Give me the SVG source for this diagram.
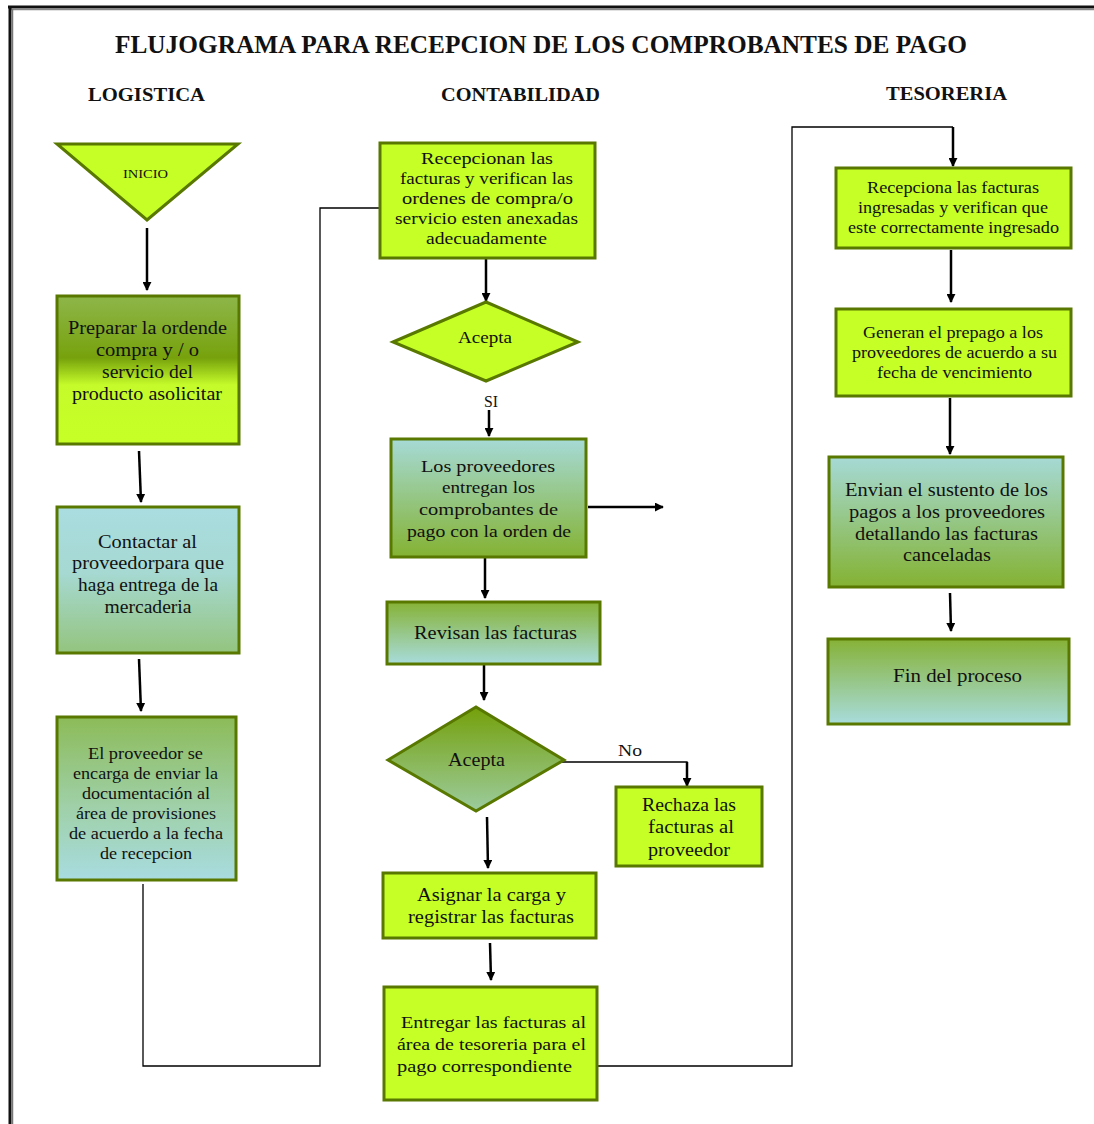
<svg xmlns="http://www.w3.org/2000/svg" width="1094" height="1124" viewBox="0 0 1094 1124">
  <defs>
    <style>
      .t { font-family: "Liberation Serif", "Times New Roman", serif; fill: #111; text-anchor: middle; }
      .title { font-weight: bold; font-size: 25px; }
      .lane { font-weight: bold; font-size: 18px; }
      .box { stroke: #587800; stroke-width: 3; }
      .lime { fill: #c6ff26; }
      .flow { fill: none; stroke: #000; stroke-width: 2.5; }
      .link { fill: none; stroke: #000; stroke-width: 1.3; }
      .f17 { font-size: 17px; }
      .f16 { font-size: 16px; }
      .f18 { font-size: 18px; }
      .l { text-anchor: start; }
    </style>
    <marker id="ah" viewBox="0 0 10 10" refX="9" refY="5" markerWidth="9" markerHeight="9" markerUnits="userSpaceOnUse" orient="auto">
      <path d="M0,0 L10,5 L0,10 Z" fill="#000"/>
    </marker>
    <linearGradient id="gPrep" x1="0" y1="0" x2="0" y2="1">
      <stop offset="0" stop-color="#8db64a"/>
      <stop offset="0.42" stop-color="#77a20c"/>
      <stop offset="0.6" stop-color="#c5fb2a"/>
      <stop offset="1" stop-color="#c6ff26"/>
    </linearGradient>
    <linearGradient id="gBlueGreen" x1="0" y1="0" x2="0" y2="1">
      <stop offset="0" stop-color="#a9dde0"/>
      <stop offset="0.45" stop-color="#a6d9d2"/>
      <stop offset="1" stop-color="#94c47e"/>
    </linearGradient>
    <linearGradient id="gGreenBlue" x1="0" y1="0" x2="0" y2="1">
      <stop offset="0" stop-color="#8cbb58"/>
      <stop offset="0.55" stop-color="#9fd0a8"/>
      <stop offset="1" stop-color="#a8dce0"/>
    </linearGradient>
    <linearGradient id="gBlueGreenDeep" x1="0" y1="0" x2="0" y2="1">
      <stop offset="0" stop-color="#a6dad6"/>
      <stop offset="1" stop-color="#84b232"/>
    </linearGradient>
    <linearGradient id="gGreenBlueDeep" x1="0" y1="0" x2="0" y2="1">
      <stop offset="0" stop-color="#86b236"/>
      <stop offset="1" stop-color="#a8dcdc"/>
    </linearGradient>
    <linearGradient id="gDiamond" x1="0" y1="0" x2="0" y2="1">
      <stop offset="0" stop-color="#74a00a"/>
      <stop offset="1" stop-color="#9ccc9e"/>
    </linearGradient>
  </defs>

  <rect width="1094" height="1124" fill="#fff"/>

  <!-- page frame -->
  <g id="frame">
    <line x1="8" y1="7" x2="1094" y2="7" stroke="#111" stroke-width="3"/>
    <line x1="11" y1="9.5" x2="1094" y2="9.5" stroke="#888" stroke-width="1.5"/>
    <line x1="10" y1="6" x2="10" y2="1124" stroke="#111" stroke-width="3"/>
    <line x1="12.5" y1="9" x2="12.5" y2="1124" stroke="#777" stroke-width="1.5"/>
  </g>

  <!-- headings -->
  <g id="headings">
    <text class="t title" x="541" y="53" textLength="852" lengthAdjust="spacingAndGlyphs">FLUJOGRAMA PARA RECEPCION DE LOS COMPROBANTES DE PAGO</text>
    <text class="t lane" x="146.5" y="101" textLength="117" lengthAdjust="spacingAndGlyphs">LOGISTICA</text>
    <text class="t lane" x="520.5" y="101" textLength="159" lengthAdjust="spacingAndGlyphs">CONTABILIDAD</text>
    <text class="t lane" x="946.5" y="100" textLength="121" lengthAdjust="spacingAndGlyphs">TESORERIA</text>
  </g>

  <!-- connectors -->
  <g id="connectors">
    <line class="flow" x1="147" y1="228" x2="147" y2="290" marker-end="url(#ah)"/>
    <line class="flow" x1="139" y1="451" x2="141" y2="502" marker-end="url(#ah)"/>
    <line class="flow" x1="139" y1="659" x2="141" y2="711" marker-end="url(#ah)"/>
    <polyline class="link" points="143,884 143,1066 320,1066 320,208 379,208"/>
    <line class="flow" x1="486" y1="259" x2="486" y2="301" marker-end="url(#ah)"/>
    <line class="flow" x1="489" y1="410" x2="489" y2="436" marker-end="url(#ah)"/>
    <line class="flow" x1="588" y1="507" x2="663" y2="507" marker-end="url(#ah)"/>
    <line class="flow" x1="485" y1="558" x2="485" y2="598" marker-end="url(#ah)"/>
    <line class="flow" x1="484" y1="665" x2="484" y2="700" marker-end="url(#ah)"/>
    <polyline class="link" points="562,762 687,762 687,770"/>
    <line class="flow" x1="687" y1="762" x2="687" y2="786" marker-end="url(#ah)"/>
    <line class="flow" x1="487" y1="817" x2="488" y2="868" marker-end="url(#ah)"/>
    <line class="flow" x1="490" y1="943" x2="491" y2="980" marker-end="url(#ah)"/>
    <polyline class="link" points="597,1066 792,1066 792,127 953,127"/>
    <line class="flow" x1="953" y1="127" x2="953" y2="166" marker-end="url(#ah)"/>
    <line class="flow" x1="951" y1="250" x2="951" y2="302" marker-end="url(#ah)"/>
    <line class="flow" x1="950" y1="398" x2="950" y2="454" marker-end="url(#ah)"/>
    <line class="flow" x1="950" y1="593" x2="951" y2="631" marker-end="url(#ah)"/>
    <text class="t f16" x="491" y="407" textLength="14" lengthAdjust="spacingAndGlyphs">SI</text>
    <text class="t f17" x="630" y="756" textLength="24" lengthAdjust="spacingAndGlyphs">No</text>
  </g>

  <!-- logistica -->
  <g id="inicio">
    <polygon class="box lime" points="57,144 238,144 147,220"/>
    <text class="t" x="145.5" y="178" font-size="13" textLength="45" lengthAdjust="spacingAndGlyphs">INICIO</text>
  </g>
  <g id="preparar">
    <rect class="box" x="57" y="296" width="182" height="148" fill="url(#gPrep)"/>
    <text class="t f18" x="147.5" y="334" textLength="159" lengthAdjust="spacingAndGlyphs">Preparar la ordende</text>
    <text class="t f18" x="147.5" y="356" textLength="103" lengthAdjust="spacingAndGlyphs">compra y / o</text>
    <text class="t f18" x="147.5" y="378" textLength="91" lengthAdjust="spacingAndGlyphs">servicio del</text>
    <text class="t f18" x="147" y="400" textLength="150" lengthAdjust="spacingAndGlyphs">producto asolicitar</text>
  </g>
  <g id="contactar">
    <rect class="box" x="57" y="507" width="182" height="146" fill="url(#gBlueGreen)"/>
    <text class="t f18" x="147.5" y="548" textLength="99" lengthAdjust="spacingAndGlyphs">Contactar al</text>
    <text class="t f18" x="148" y="569" textLength="152" lengthAdjust="spacingAndGlyphs">proveedorpara que</text>
    <text class="t f18" x="148" y="591" textLength="140" lengthAdjust="spacingAndGlyphs">haga entrega de la</text>
    <text class="t f18" x="148" y="613" textLength="87" lengthAdjust="spacingAndGlyphs">mercaderia</text>
  </g>
  <g id="proveedor-envia">
    <rect class="box" x="57" y="717" width="179" height="163" fill="url(#gGreenBlue)"/>
    <text class="t f16" x="145.5" y="759" textLength="115" lengthAdjust="spacingAndGlyphs">El proveedor se</text>
    <text class="t f16" x="145.5" y="779" textLength="145" lengthAdjust="spacingAndGlyphs">encarga de enviar la</text>
    <text class="t f16" x="146" y="799" textLength="128" lengthAdjust="spacingAndGlyphs">documentación al</text>
    <text class="t f16" x="146" y="819" textLength="140" lengthAdjust="spacingAndGlyphs">área de provisiones</text>
    <text class="t f16" x="146" y="839" textLength="154" lengthAdjust="spacingAndGlyphs">de acuerdo a la fecha</text>
    <text class="t f16" x="146" y="859" textLength="92" lengthAdjust="spacingAndGlyphs">de recepcion</text>
  </g>

  <!-- contabilidad -->
  <g id="recepcionan">
    <rect class="box lime" x="380" y="143" width="215" height="115"/>
    <text class="t f17" x="487" y="164" textLength="132" lengthAdjust="spacingAndGlyphs">Recepcionan las</text>
    <text class="t f17" x="486.5" y="184" textLength="173" lengthAdjust="spacingAndGlyphs">facturas y verifican las</text>
    <text class="t f17" x="487.5" y="204" textLength="171" lengthAdjust="spacingAndGlyphs">ordenes de compra/o</text>
    <text class="t f17" x="486.5" y="224" textLength="183" lengthAdjust="spacingAndGlyphs">servicio esten anexadas</text>
    <text class="t f17" x="486.5" y="244" textLength="121" lengthAdjust="spacingAndGlyphs">adecuadamente</text>
  </g>
  <g id="acepta-1">
    <polygon class="box lime" points="393,342 486,302 578,342 486,381"/>
    <text class="t f17" x="485" y="343" textLength="54" lengthAdjust="spacingAndGlyphs">Acepta</text>
  </g>
  <g id="entregan">
    <rect class="box" x="391" y="439" width="195" height="118" fill="url(#gBlueGreenDeep)"/>
    <text class="t f17" x="488" y="472" textLength="134" lengthAdjust="spacingAndGlyphs">Los proveedores</text>
    <text class="t f17" x="488.5" y="493" textLength="93" lengthAdjust="spacingAndGlyphs">entregan los</text>
    <text class="t f17" x="488.5" y="515" textLength="139" lengthAdjust="spacingAndGlyphs">comprobantes de</text>
    <text class="t f17" x="489" y="537" textLength="164" lengthAdjust="spacingAndGlyphs">pago con la orden de</text>
  </g>
  <g id="revisan">
    <rect class="box" x="387" y="602" width="213" height="62" fill="url(#gGreenBlueDeep)"/>
    <text class="t f18" x="495.5" y="639" textLength="163" lengthAdjust="spacingAndGlyphs">Revisan las facturas</text>
  </g>
  <g id="acepta-2">
    <polygon class="box" points="388,760 476,707 564,760 476,811" fill="url(#gDiamond)"/>
    <text class="t f18" x="476.5" y="766" textLength="57" lengthAdjust="spacingAndGlyphs">Acepta</text>
  </g>
  <g id="rechaza">
    <rect class="box lime" x="616" y="787" width="146" height="79"/>
    <text class="t f18" x="689" y="811" textLength="94" lengthAdjust="spacingAndGlyphs">Rechaza las</text>
    <text class="t f18" x="691" y="833" textLength="86" lengthAdjust="spacingAndGlyphs">facturas  al</text>
    <text class="t f18" x="689" y="856" textLength="82" lengthAdjust="spacingAndGlyphs">proveedor</text>
  </g>
  <g id="asignar">
    <rect class="box lime" x="383" y="873" width="213" height="65"/>
    <text class="t f18" x="491.5" y="901" textLength="149" lengthAdjust="spacingAndGlyphs">Asignar la carga y</text>
    <text class="t f18" x="491" y="923" textLength="166" lengthAdjust="spacingAndGlyphs">registrar las facturas</text>
  </g>
  <g id="entregar">
    <rect class="box lime" x="384" y="987" width="213" height="113"/>
    <text class="t f17 l" x="401" y="1028" textLength="185" lengthAdjust="spacingAndGlyphs">Entregar las facturas al</text>
    <text class="t f17 l" x="397" y="1050" textLength="189" lengthAdjust="spacingAndGlyphs">área de tesoreria para el</text>
    <text class="t f17 l" x="397" y="1072" textLength="175" lengthAdjust="spacingAndGlyphs">pago correspondiente</text>
  </g>

  <!-- tesoreria -->
  <g id="recepciona-tesoreria">
    <rect class="box lime" x="836" y="168" width="235" height="80"/>
    <text class="t f16" x="953" y="193" textLength="172" lengthAdjust="spacingAndGlyphs">Recepciona las facturas</text>
    <text class="t f16" x="953" y="213" textLength="190" lengthAdjust="spacingAndGlyphs">ingresadas y verifican que</text>
    <text class="t f16" x="953.5" y="233" textLength="211" lengthAdjust="spacingAndGlyphs">este correctamente ingresado</text>
  </g>
  <g id="prepago">
    <rect class="box lime" x="836" y="309" width="235" height="87"/>
    <text class="t f16" x="953" y="338" textLength="180" lengthAdjust="spacingAndGlyphs">Generan el prepago a los</text>
    <text class="t f16" x="954.5" y="358" textLength="205" lengthAdjust="spacingAndGlyphs">proveedores de acuerdo a su</text>
    <text class="t f16" x="954.5" y="378" textLength="155" lengthAdjust="spacingAndGlyphs">fecha de vencimiento</text>
  </g>
  <g id="envian">
    <rect class="box" x="829" y="457" width="234" height="130" fill="url(#gBlueGreenDeep)"/>
    <text class="t f18" x="946.5" y="496" textLength="203" lengthAdjust="spacingAndGlyphs">Envian el sustento de los</text>
    <text class="t f18" x="947" y="518" textLength="196" lengthAdjust="spacingAndGlyphs">pagos a los proveedores</text>
    <text class="t f18" x="946.5" y="540" textLength="183" lengthAdjust="spacingAndGlyphs">detallando las facturas</text>
    <text class="t f18" x="947" y="561" textLength="88" lengthAdjust="spacingAndGlyphs">canceladas</text>
  </g>
  <g id="fin">
    <rect class="box" x="828" y="639" width="241" height="85" fill="url(#gGreenBlueDeep)"/>
    <text class="t f18" x="957.5" y="682" textLength="129" lengthAdjust="spacingAndGlyphs">Fin del proceso</text>
  </g>
</svg>
